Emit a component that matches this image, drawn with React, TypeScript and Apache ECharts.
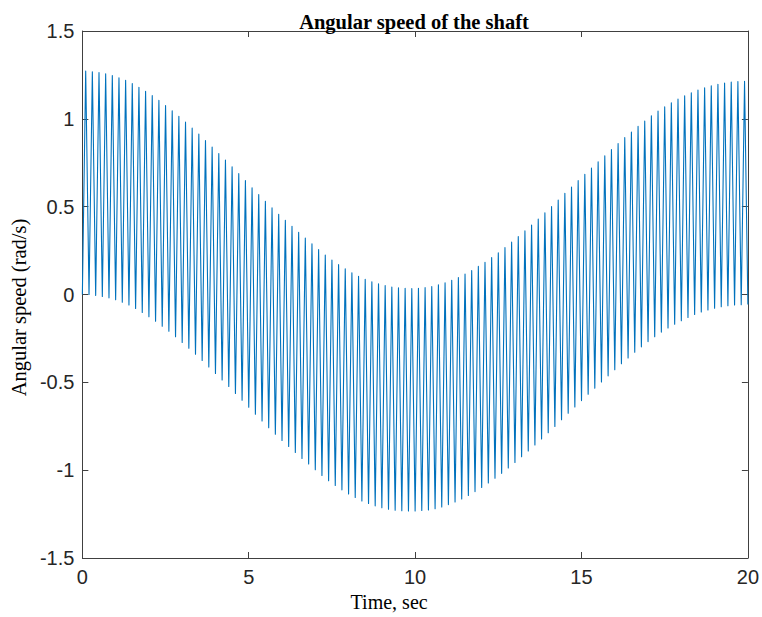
import React, { useEffect, useRef } from "react";
import * as echarts from "echarts";

// Sample period of the oscillation (s): troughs at k*PERIOD, peaks half a period later
const PERIOD = 0.2;

// Peak (upper envelope) values, one per cycle (rad/s)
const peakValues = [
  1.272, 1.268, 1.263, 1.256, 1.246, 1.234, 1.219, 1.201, 1.18, 1.157,
  1.132, 1.105, 1.076, 1.046, 1.014, 0.981, 0.947, 0.913, 0.877, 0.84,
  0.803, 0.765, 0.727, 0.688, 0.649, 0.608, 0.569, 0.531, 0.493, 0.457,
  0.422, 0.388, 0.354, 0.321, 0.289, 0.256, 0.225, 0.196, 0.17, 0.146,
  0.124, 0.104, 0.087, 0.073, 0.061, 0.051, 0.043, 0.038, 0.035, 0.034,
  0.035, 0.039, 0.045, 0.055, 0.067, 0.081, 0.097, 0.116, 0.137, 0.16,
  0.184, 0.21, 0.238, 0.267, 0.298, 0.33, 0.362, 0.396, 0.43, 0.465,
  0.501, 0.538, 0.576, 0.612, 0.648, 0.684, 0.72, 0.755, 0.79, 0.825,
  0.859, 0.893, 0.925, 0.957, 0.988, 1.017, 1.044, 1.068, 1.091, 1.112,
  1.131, 1.148, 1.164, 1.177, 1.188, 1.197, 1.204, 1.209, 1.212, 1.213,
];

// Trough (lower envelope) values (rad/s)
const troughValues = [
  0.0, 0.0, -0.005, -0.011, -0.019, -0.03, -0.044, -0.06, -0.08, -0.102,
  -0.126, -0.152, -0.18, -0.209, -0.24, -0.273, -0.306, -0.34, -0.375, -0.412,
  -0.449, -0.486, -0.524, -0.563, -0.602, -0.642, -0.682, -0.72, -0.758, -0.795,
  -0.831, -0.865, -0.899, -0.933, -0.965, -0.998, -1.03, -1.06, -1.087, -1.112,
  -1.135, -1.156, -1.175, -1.19, -1.203, -1.214, -1.222, -1.228, -1.231, -1.232,
  -1.232, -1.23, -1.226, -1.219, -1.209, -1.196, -1.181, -1.164, -1.144, -1.122,
  -1.098, -1.073, -1.046, -1.018, -0.988, -0.956, -0.924, -0.891, -0.857, -0.823,
  -0.787, -0.751, -0.713, -0.676, -0.64, -0.604, -0.568, -0.533, -0.498, -0.463,
  -0.428, -0.394, -0.361, -0.329, -0.298, -0.268, -0.24, -0.214, -0.191, -0.169,
  -0.149, -0.131, -0.114, -0.1, -0.088, -0.078, -0.07, -0.064, -0.06, -0.058,
  -0.057,
];

const xTicks = { min: 0, max: 20, interval: 5 };
const yTicks = { min: -1.5, max: 1.5, interval: 0.5 };

const TITLE = "Angular speed of the shaft";
const X_NAME = "Time, sec";
const Y_NAME = "Angular speed (rad/s)";

function buildSeries(): [number, number][] {
  const pts: [number, number][] = [];
  for (let k = 0; k < troughValues.length; k++) {
    pts.push([+(k * PERIOD).toFixed(4), troughValues[k]]);
    if (k < peakValues.length) {
      pts.push([+(k * PERIOD + PERIOD / 2).toFixed(4), peakValues[k]]);
    }
  }
  return pts;
}

export default function App() {
  const ref = useRef<HTMLDivElement>(null);

  useEffect(() => {
    if (!ref.current) return;
    const chart = echarts.init(ref.current, undefined, { renderer: "svg" });
    const axisColor = "#404040";
    const labelStyle = {
      fontFamily: "Liberation Sans, Arial, sans-serif",
      fontSize: 20,
      color: "#262626",
    };
    const serif = "Liberation Serif, Times New Roman, serif";
    const axisLine = { show: true, onZero: false, lineStyle: { color: axisColor, width: 1 } };
    const axisTick = { show: true, inside: true, length: 6, lineStyle: { color: axisColor } };
    chart.setOption({
      animation: false,
      backgroundColor: "#ffffff",
      title: {
        text: TITLE,
        left: 409,
        top: 6,
        textAlign: "center",
        textStyle: {
          fontFamily: serif,
          fontWeight: "bold",
          fontSize: 20.5,
          color: "#000000",
        },
      },
      grid: { left: 77, right: 12, top: 31, bottom: 57, containLabel: false },
      xAxis: [
        {
          type: "value",
          min: xTicks.min,
          max: xTicks.max,
          interval: xTicks.interval,
          name: X_NAME,
          nameLocation: "middle",
          nameGap: 34,
          nameTextStyle: {
            fontFamily: serif,
            fontSize: 20,
            color: "#000000",
            padding: [0, 52, 0, 0],
          },
          axisLine,
          axisTick,
          axisLabel: { ...labelStyle, margin: 9 },
          splitLine: { show: false },
        },
        {
          type: "value",
          position: "top",
          min: xTicks.min,
          max: xTicks.max,
          interval: xTicks.interval,
          axisLine,
          axisTick,
          axisLabel: { show: false },
          splitLine: { show: false },
        },
      ],
      yAxis: [
        {
          type: "value",
          min: yTicks.min,
          max: yTicks.max,
          interval: yTicks.interval,
          name: Y_NAME,
          nameLocation: "middle",
          nameRotate: 90,
          nameGap: 49,
          nameTextStyle: {
            fontFamily: serif,
            fontSize: 20.5,
            color: "#000000",
            padding: [0, 26, 0, 0],
          },
          axisLine,
          axisTick,
          axisLabel: { ...labelStyle, margin: 8 },
          splitLine: { show: false },
        },
        {
          type: "value",
          position: "right",
          min: yTicks.min,
          max: yTicks.max,
          interval: yTicks.interval,
          axisLine,
          axisTick,
          axisLabel: { show: false },
          splitLine: { show: false },
        },
      ],
      series: [
        {
          type: "line",
          data: buildSeries(),
          xAxisIndex: 0,
          yAxisIndex: 0,
          showSymbol: false,
          symbol: "none",
          lineStyle: { color: "#0072BD", width: 1.1, join: "round" },
          smooth: false,
        },
      ],
    });
    return () => chart.dispose();
  }, []);

  return (
    <div
      ref={ref}
      style={{ position: "fixed", left: 0, top: 0, width: 762, height: 617 }}
    />
  );
}
